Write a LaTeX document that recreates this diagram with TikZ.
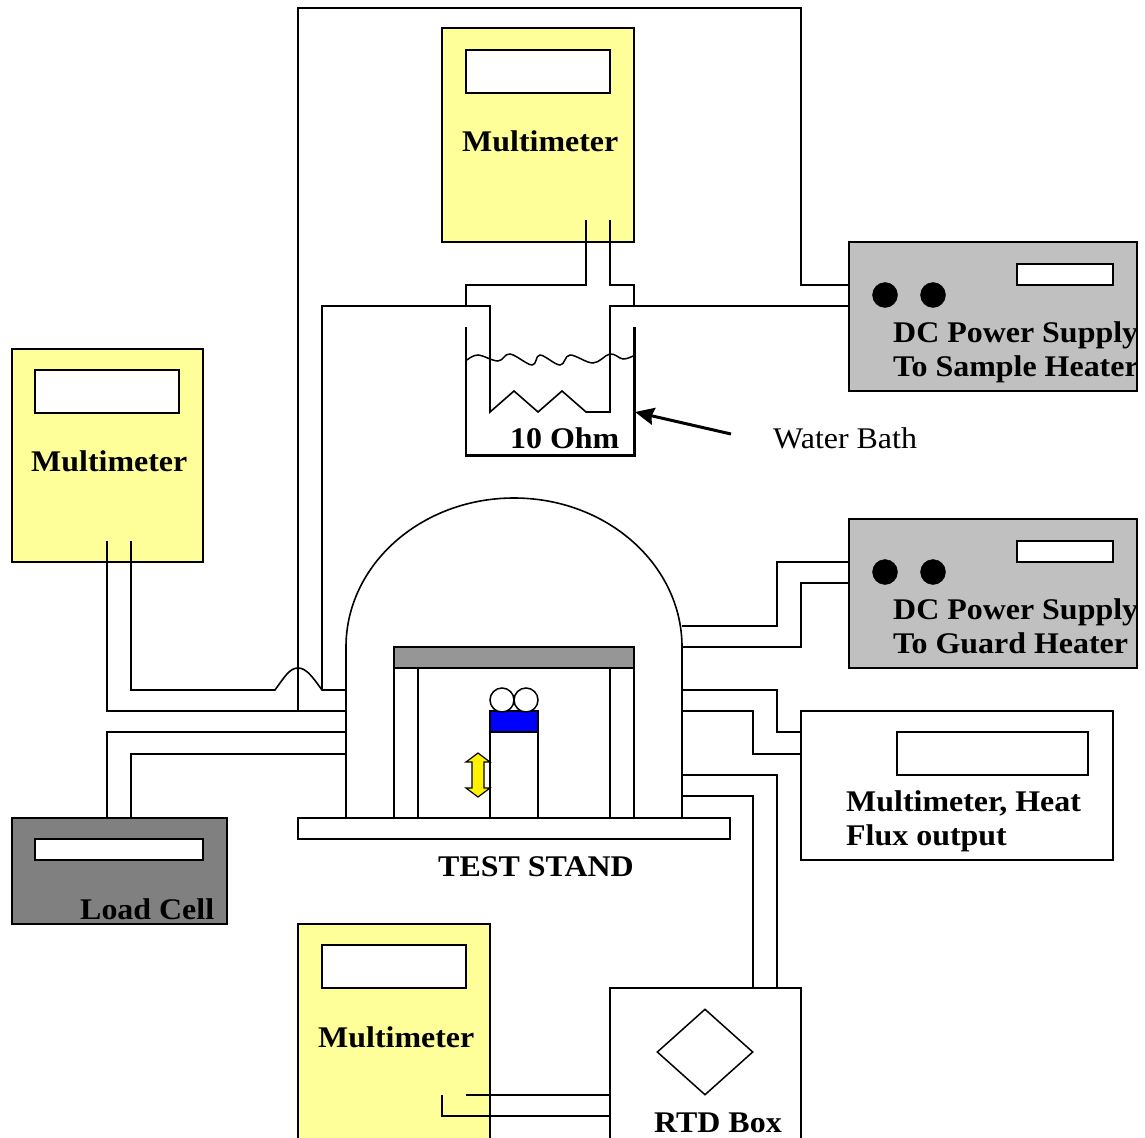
\documentclass[tikz,border=0pt]{standalone}
\usepackage{fontspec}
\setmainfont[FakeStretch=1.065]{Liberation Serif}
\usetikzlibrary{arrows.meta,shapes.geometric}
\definecolor{meter}{HTML}{FFFF99}
\definecolor{psgray}{HTML}{C0C0C0}
\definecolor{lcgray}{HTML}{808080}
\definecolor{bargray}{HTML}{969696}
\tikzset{
  wire/.style={line width=1.6pt,line join=miter},
  boxed/.style={draw=black,line width=1.6pt,anchor=north west,inner sep=0pt,outer sep=0pt},
  meterbox/.style={boxed,fill=meter,minimum width=192pt,minimum height=214pt},
  display/.style={boxed,fill=white},
  psbox/.style={boxed,fill=psgray,minimum width=288pt,minimum height=149pt},
  dot/.style={circle,fill=black,draw=black,minimum size=25pt,inner sep=0pt},
  ball/.style={circle,fill=white,draw=black,line width=1.5pt,minimum size=24pt,inner sep=0pt},
  bold/.style={anchor=base west,inner sep=0pt,font=\fontsize{30}{30}\selectfont\bfseries},
  plain/.style={anchor=base west,inner sep=0pt,font=\fontsize{30}{30}\selectfont},
  wall/.style={line width=2.2pt}
}
\begin{document}
\begin{tikzpicture}[x=1pt,y=-1pt]
\useasboundingbox (0,0) rectangle (1145,1137);
\clip (0,0) rectangle (1145,1137);
% instruments
\node[meterbox] (mt) at (442,28) {};
\node[display,minimum width=144pt,minimum height=43pt] (mtd) at (466,50) {};
\node[meterbox,minimum width=191pt,minimum height=213pt] (ml) at (12,349) {};
\node[display,minimum width=144pt,minimum height=43pt] (mld) at (35,370) {};
\node[meterbox,minimum height=240pt] (mb) at (298,924) {};
\node[display,minimum width=144pt,minimum height=43pt] (mbd) at (322,945) {};
\node[psbox] (pa) at (849,242) {};
\node[display,minimum width=96pt,minimum height=21pt] (pad) at (1017,264) {};
\node[dot] (pa1) at (885,295) {};
\node[dot] (pa2) at (933,295) {};
\node[psbox] (pb) at (849,519) {};
\node[display,minimum width=96pt,minimum height=21pt] (pbd) at (1017,541) {};
\node[dot] (pb1) at (885,572) {};
\node[dot] (pb2) at (933,572) {};
\node[boxed,fill=white,minimum width=312pt,minimum height=149pt] (hf) at (801,711) {};
\node[display,minimum width=191pt,minimum height=43pt] (hfd) at (897,732) {};
\node[boxed,fill=lcgray,minimum width=215pt,minimum height=106pt] (lc) at (12,818) {};
\node[display,minimum width=168pt,minimum height=21pt] (lcd) at (35,839) {};
\node[boxed,fill=white,minimum width=191pt,minimum height=170pt] (rtd) at (610,988) {};
\node[diamond,draw=black,line width=1.5pt,fill=white,minimum width=96pt,minimum height=86pt,inner sep=0pt,aspect=1.1] (dia) at (705,1052) {};
% test stand
\coordinate (dl) at (346,647);
\coordinate (dr) at (682,647);
\coordinate (tl) at (346,818);
\coordinate (tr) at (682,818);
\draw[wire] (tl) -- (dl) arc[start angle=180,end angle=360,x radius=168,y radius=149] -- (tr);
\node[boxed,fill=white,minimum width=24pt,minimum height=150pt] (cola) at (394,668) {};
\node[boxed,fill=white,minimum width=24pt,minimum height=150pt] (colb) at (610,668) {};
\node[boxed,fill=bargray,minimum width=240pt,minimum height=21pt] (bar) at (394,647) {};
\node[boxed,fill=white,minimum width=48pt,minimum height=86pt] (post) at (490,732) {};
\node[boxed,fill=blue,minimum width=48pt,minimum height=21pt] (blk) at (490,711) {};
\node[ball] (b1) at (502,700) {};
\node[ball] (b2) at (526,700) {};
\node[boxed,fill=white,minimum width=432pt,minimum height=21pt] (base) at (298,818) {};
\draw[line width=1.2pt,fill=yellow] (478,753) -- (490,762) -- (484,762) -- (484,788) -- (490,788) -- (478,797) -- (466,788) -- (472,788) -- (472,762) -- (466,762) -- cycle;
% water bath
\coordinate (wa) at (466,327);
\coordinate (wb) at (466,455);
\coordinate (wc) at (634,455);
\coordinate (wd) at (634,327);
\draw[wall] (wa) -- (wb);
\draw[line width=3pt,line cap=rect] (wb) -- (wc);
\draw[line width=3pt] (wc) -- (wd);
\draw[line width=1.5pt] plot[smooth,tension=0.6] coordinates {(467,360) (478,355) (498,361) (510,354) (532,365) (540,355) (560,365) (570,355) (593,363) (610,354) (623,359) (633,356)};
\coordinate (aw) at (731,434);
\coordinate (at) at (635,412);
\draw[line width=3pt,-{Stealth[length=19pt,width=17pt,inset=2pt]}] (aw) -- (at);
% meter wires
\coordinate (t1) at (586,220);
\coordinate (t2) at (610,220);
\coordinate (l1) at (107,541);
\coordinate (l2) at (131,541);
\coordinate (b3) at (466,1095);
\coordinate (b4) at (442,1095);
\coordinate (rs) at (490,412);
\coordinate (re) at (610,412);
\draw[wire] (t1) -- (586,285) -- (466,285) -- (466,306);
\draw[wire] (t2) -- (610,285) -- (634,285) -- (634,306);
\draw[wire] (322,690) -- (322,306) -- (490,306) -- (rs) -- (514,391) -- (538,412) -- (562,391) -- (586,412) -- (re) -- (610,306) -- (pa.west |- 0,306);
% sample supply loop
\draw[wire] (298,711) -- (298,8) -- (801,8) -- (801,285) -- (pa.west |- 0,285);
% left meter
\draw[wire] (l1) -- (107,711) -- (dl |- 0,711);
\draw[wire] (l2) -- (131,690) -- (275,690) .. controls (285,676) and (290,668) .. (298,668) .. controls (306,668) and (312,676) .. (322,690) -- (dl |- 0,690);
% load cell
\draw[wire] (lc.north -| 107,0) -- (107,732) -- (dl |- 0,732);
\draw[wire] (lc.north -| 131,0) -- (131,754) -- (dl |- 0,754);
% guard supply
\draw[wire] (dr |- 0,626) -- (777,626) -- (777,562) -- (pb.west |- 0,562);
\draw[wire] (dr) -- (801,647) -- (801,583) -- (pb.west |- 0,583);
% heat flux
\draw[wire] (dr |- 0,690) -- (777,690) -- (777,732) -- (hf.west |- 0,732);
\draw[wire] (dr |- 0,711) -- (753,711) -- (753,754) -- (hf.west |- 0,754);
% RTD
\draw[wire] (dr |- 0,775) -- (777,775) -- (rtd.north -| 777,0);
\draw[wire] (dr |- 0,796) -- (753,796) -- (rtd.north -| 753,0);
\draw[wire] (b3) -- (rtd.west |- 0,1095);
\draw[wire] (b4) -- (442,1116) -- (rtd.west |- 0,1116);
% labels
\node[bold] (tmt) at (462,151) {Multimeter};
\node[bold] (tml) at (31,471) {Multimeter};
\node[bold] (tmb) at (318,1047) {Multimeter};
\node[bold] (tpa1) at (893,342) {DC Power Supply};
\node[bold] (tpa2) at (893,376) {To Sample Heater};
\node[bold] (tpb1) at (893,619) {DC Power Supply};
\node[bold] (tpb2) at (893,653) {To Guard Heater};
\node[bold] (thf1) at (846,811) {Multimeter, Heat};
\node[bold] (thf2) at (846,845) {Flux output};
\node[bold] (tlc) at (80,919) {Load Cell};
\node[bold] (tts) at (438,876) {TEST STAND};
\node[bold] (trt) at (654,1132) {RTD Box};
\node[bold] (toh) at (510,448) {10 Ohm};
\node[plain] (twb) at (773,448) {Water Bath};
\end{tikzpicture}
\end{document}
